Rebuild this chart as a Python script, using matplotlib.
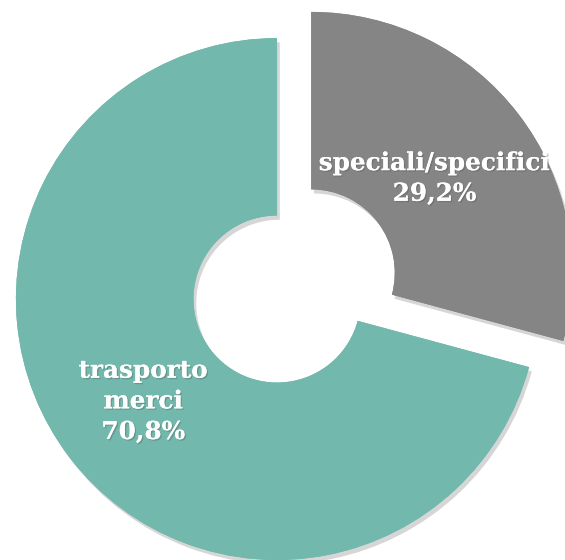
import math
import matplotlib
matplotlib.use("Agg")
import matplotlib.pyplot as plt
import matplotlib.patheffects as pe

categories = ["trasporto\nmerci", "speciali/specifici"]
values = [70.8, 29.2]
pct_labels = ["70,8%", "29,2%"]
colors = ["#72b8ac", "#858585"]
explode = [0.0, 0.165]
label_dist = [0.645, 0.595]

fig = plt.figure(figsize=(5.65, 5.6), dpi=100)
ax = fig.add_axes([0, 0, 1, 1])
labels = [f"{c}\n{p}" for c, p in zip(categories, pct_labels)]
wedges, texts = ax.pie(values, labels=labels, colors=colors, explode=explode,
                       startangle=90, counterclock=True, radius=1.0,
                       labeldistance=0.6,
                       wedgeprops=dict(width=0.68, edgecolor="none"))
for w, t, d in zip(wedges, texts, label_dist):
    thm = math.radians((w.theta1 + w.theta2) / 2)
    cx, cy = w.center
    t.set_position((cx + d * w.r * math.cos(thm), cy + d * w.r * math.sin(thm)))
    t.set_ha("center")
    t.set_va("center")
    t.set_multialignment("center")
    t.set_color("white")
    t.set_fontfamily("DejaVu Serif")
    t.set_fontweight("bold")
    t.set_fontsize(17.8)
    t.set_linespacing(1.35)
    t.set_path_effects([pe.withSimplePatchShadow(offset=(1, -1), alpha=0.3), pe.Normal()])
for w in wedges:
    w.set_path_effects([pe.withSimplePatchShadow(offset=(2, -3), shadow_rgbFace="#999999", alpha=0.4), pe.Normal()])

ax.set_xlim(-1.061, 1.103)
ax.set_ylim(-1.0, 1.146)
ax.set_aspect("auto")
ax.axis("off")
fig.savefig("out.png", dpi=100)
